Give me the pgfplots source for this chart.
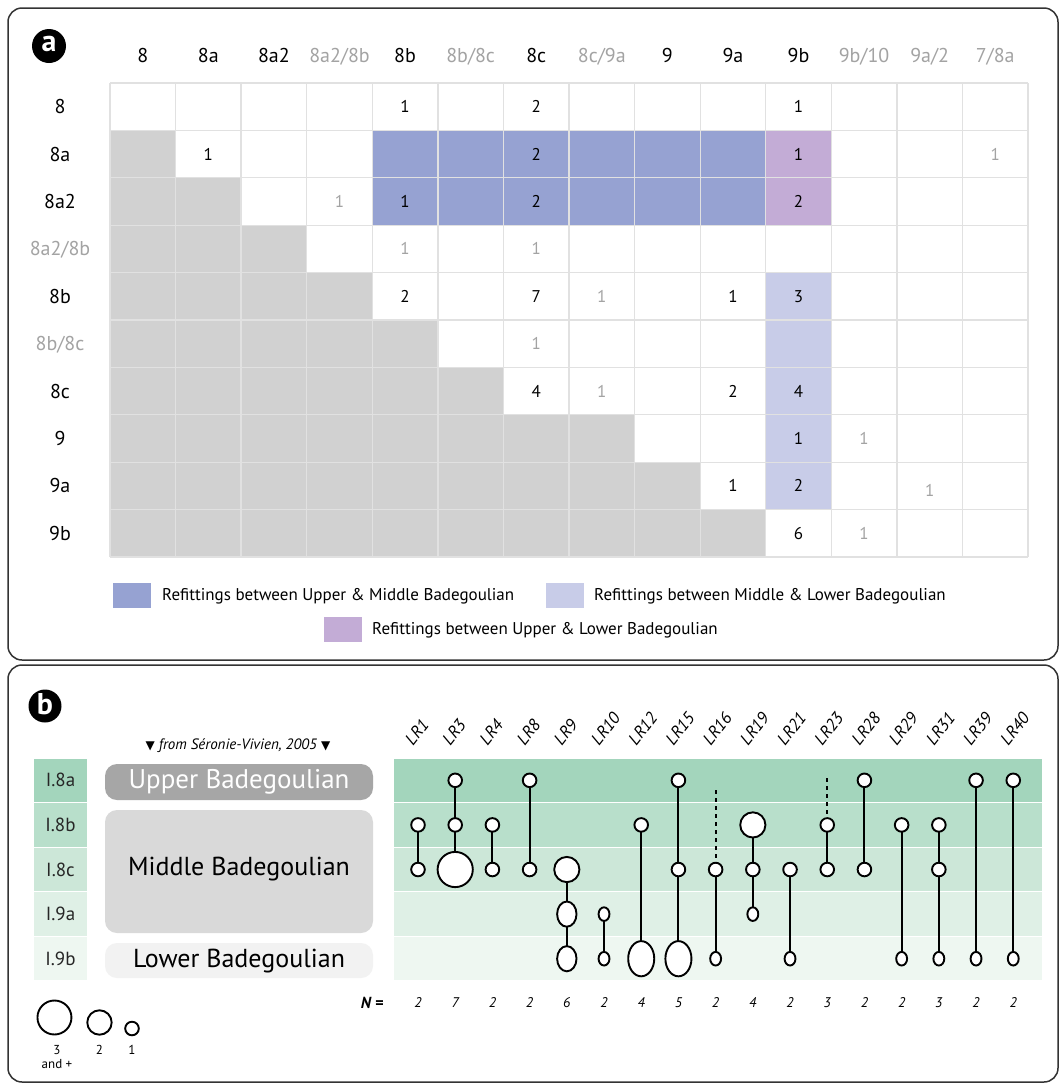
\documentclass[border=0pt]{standalone}
\usepackage{fontspec}
\setmainfont{PT Sans}
\newfontfamily\dejavu{DejaVu Sans}
\usepackage{pgfplots}
\pgfplotsset{compat=1.18}

\definecolor{blueUM}{HTML}{96A2D2}
\definecolor{purpleUL}{HTML}{C3ACD6}
\definecolor{lavML}{HTML}{C8CCE8}
\definecolor{cellgray}{HTML}{D1D1D1}
\definecolor{gridc}{HTML}{E1E1E1}
\definecolor{lightnum}{HTML}{A3A3A3}
\definecolor{bandA}{HTML}{A3D5BC}
\definecolor{bandB}{HTML}{B8DFCB}
\definecolor{bandC}{HTML}{CCE7D8}
\definecolor{bandD}{HTML}{DFF0E6}
\definecolor{bandE}{HTML}{EEF7F1}
\definecolor{framec}{HTML}{333333}

\newcommand\fs[1]{\fontsize{#1bp}{#1bp}\selectfont}

\begin{document}
\begin{tikzpicture}[x=1bp,y=-1bp]
\useasboundingbox (0,0) rectangle (1061,1083);
\fill[white] (0,0) rectangle (1061,1083);

% frames and panel letters
\draw[framec, line width=1.5bp, rounded corners=14bp] (8,8) rectangle (1058,660);
\draw[framec, line width=1.5bp, rounded corners=14bp] (8,665) rectangle (1058,1082);
\fill[black] (49,46) circle (17bp);
\node[text=white, font=\fs{30}\bfseries] at (49,44) {a};
\fill[black] (45,706) circle (16.5bp);
\node[text=white, font=\fs{30}\bfseries] at (45,704) {b};

% ---------- panel a: refitting matrix ----------
\begin{axis}[
  at={(110bp,-83bp)}, anchor=north west,
  scale only axis, width=918bp, height=474bp,
  xmin=0, xmax=14, ymin=0, ymax=10, y dir=reverse,
  axis on top, axis line style={draw=none},
  major tick length=0pt, minor tick length=0pt,
  xtick={0.5,1.5,...,13.5}, ytick={0.5,1.5,...,9.5},
  minor xtick={0,1,...,14}, minor ytick={0,1,...,10},
  xminorgrids=true, yminorgrids=true,
  minor grid style={draw=gridc, line width=1.3bp},
  xticklabel pos=upper,
  xticklabels={8,8a,8a2,\textcolor{lightnum}{8a2/8b},8b,\textcolor{lightnum}{8b/8c},8c,
    \textcolor{lightnum}{8c/9a},9,9a,9b,\textcolor{lightnum}{9b/10},\textcolor{lightnum}{9a/2},
    \textcolor{lightnum}{7/8a}},
  yticklabels={8,8a,8a2,\textcolor{lightnum}{8a2/8b},8b,\textcolor{lightnum}{8b/8c},8c,9,9a,9b},
  xticklabel style={font=\fs{20}, anchor=base, yshift=21bp},
  yticklabel style={font=\fs{20}, anchor=base, xshift=-50bp, yshift=-7bp},
]
% lower triangle (not used)
\addplot[fill=cellgray, draw=none] coordinates {
  (0,1) (1,1) (1,2) (2,2) (2,3) (3,3) (3,4) (4,4) (4,5) (5,5) (5,6) (6,6)
  (6,7) (8,7) (8,8) (9,8) (9,9) (10,9) (10,10) (0,10)} -- cycle;
% Upper & Middle
\addplot[fill=blueUM, draw=none] coordinates {(4,1) (10,1) (10,3) (4,3)} -- cycle;
% Upper & Lower
\addplot[fill=purpleUL, draw=none] coordinates {(10,1) (11,1) (11,3) (10,3)} -- cycle;
% Middle & Lower
\addplot[fill=lavML, draw=none] coordinates {(10,4) (11,4) (11,9) (10,9)} -- cycle;
% counts in levels
\addplot[only marks, mark=*, mark size=0pt, mark options={draw=none, fill=none},
  nodes near coords, point meta=explicit symbolic,
  nodes near coords style={anchor=center, font=\fs{17}, text=black}] coordinates {
  (4.5,0.5)[1] (6.5,0.5)[2] (10.5,0.5)[1]
  (1.5,1.5)[1] (6.5,1.5)[2] (10.5,1.5)[1]
  (4.5,2.5)[1] (6.5,2.5)[2] (10.5,2.5)[2]
  (4.5,4.5)[2] (6.5,4.5)[7] (9.5,4.5)[1] (10.5,4.5)[3]
  (6.5,6.5)[4] (9.5,6.5)[2] (10.5,6.5)[4]
  (10.5,7.5)[1]
  (9.5,8.5)[1] (10.5,8.5)[2]
  (10.5,9.5)[6]};
% counts in transitional units
\addplot[only marks, mark=*, mark size=0pt, mark options={draw=none, fill=none},
  nodes near coords, point meta=explicit symbolic,
  nodes near coords style={anchor=center, font=\fs{17}, text=lightnum}] coordinates {
  (13.5,1.5)[1] (3.5,2.5)[1] (4.5,3.5)[1] (6.5,3.5)[1] (7.5,4.5)[1]
  (6.5,5.5)[1] (7.5,6.5)[1] (11.5,7.5)[1] (12.5,8.6)[1] (11.5,9.5)[1]};
\end{axis}

% legend of panel a
\fill[blueUM] (113,583) rectangle (151,608);
\node[anchor=west, font=\fs{17}, inner sep=0pt] at (162,596) {Refittings between Upper \& Middle Badegoulian};
\fill[lavML] (546,583) rectangle (584,608);
\node[anchor=west, font=\fs{17}, inner sep=0pt] at (594,596) {Refittings between Middle \& Lower Badegoulian};
\fill[purpleUL] (324,617) rectangle (362,642);
\node[anchor=west, font=\fs{17}, inner sep=0pt] at (372,630) {Refittings between Upper \& Lower Badegoulian};

% ---------- panel b: left annotations ----------
\node[font=\fs{15}] at (238,746) {{\dejavu\fs{12}▼} \textit{from Séronie-Vivien, 2005} {\dejavu\fs{12}▼}};
\fill[gray!70!white, rounded corners=12bp] (105,764) rectangle (373,800);
\node[text=white, font=\fs{27}] at (239,782) {Upper Badegoulian};
\fill[black!15, rounded corners=12bp] (105,810) rectangle (373,933);
\node[font=\fs{26}] at (239,869) {Middle Badegoulian};
\fill[black!5, rounded corners=12bp] (105,943) rectangle (373,978);
\node[font=\fs{26}] at (239,961) {Lower Badegoulian};

% ---------- panel b: refitting sets ----------
\begin{axis}[
  at={(393bp,-758bp)}, anchor=north west,
  scale only axis, width=650bp, height=223bp,
  xmin=-0.672, xmax=16.8, ymin=-0.5, ymax=4.5, y dir=reverse,
  clip=false, axis line style={draw=none},
  major tick length=0pt, ytick=\empty,
  xtick={0,1,...,16}, xticklabel pos=upper,
  xticklabels={LR1,LR3,LR4,LR8,LR9,LR10,LR12,LR15,LR16,LR19,LR21,LR23,LR28,LR29,LR31,LR39,LR40},
  xticklabel style={xshift=-7bp, yshift=9bp, rotate=52, anchor=base west, font=\fs{17}\itshape},
  unbounded coords=jump,
]
% level bands (right) and level column (left)
\addplot[fill=bandA, draw=white, line width=1.2bp] coordinates {(-0.672,-0.5) (16.8,-0.5) (16.8,0.5) (-0.672,0.5)} -- cycle;
\addplot[fill=bandB, draw=white, line width=1.2bp] coordinates {(-0.672,0.5) (16.8,0.5) (16.8,1.5) (-0.672,1.5)} -- cycle;
\addplot[fill=bandC, draw=white, line width=1.2bp] coordinates {(-0.672,1.5) (16.8,1.5) (16.8,2.5) (-0.672,2.5)} -- cycle;
\addplot[fill=bandD, draw=white, line width=1.2bp] coordinates {(-0.672,2.5) (16.8,2.5) (16.8,3.5) (-0.672,3.5)} -- cycle;
\addplot[fill=bandE, draw=white, line width=1.2bp] coordinates {(-0.672,3.5) (16.8,3.5) (16.8,4.5) (-0.672,4.5)} -- cycle;
\addplot[fill=bandA, draw=white, line width=1.2bp] coordinates {(-10.35,-0.5) (-8.871,-0.5) (-8.871,0.5) (-10.35,0.5)} -- cycle;
\addplot[fill=bandB, draw=white, line width=1.2bp] coordinates {(-10.35,0.5) (-8.871,0.5) (-8.871,1.5) (-10.35,1.5)} -- cycle;
\addplot[fill=bandC, draw=white, line width=1.2bp] coordinates {(-10.35,1.5) (-8.871,1.5) (-8.871,2.5) (-10.35,2.5)} -- cycle;
\addplot[fill=bandD, draw=white, line width=1.2bp] coordinates {(-10.35,2.5) (-8.871,2.5) (-8.871,3.5) (-10.35,3.5)} -- cycle;
\addplot[fill=bandE, draw=white, line width=1.2bp] coordinates {(-10.35,3.5) (-8.871,3.5) (-8.871,4.5) (-10.35,4.5)} -- cycle;
% refitting links
\addplot[black, line width=2bp] coordinates {
  (0,1) (0,2) (0,nan) (1,0) (1,2) (1,nan) (2,1) (2,2) (2,nan) (3,0) (3,2) (3,nan)
  (4,2) (4,4) (4,nan) (5,3) (5,4) (5,nan) (6,1) (6,4) (6,nan) (7,0) (7,4) (7,nan)
  (8,2) (8,4) (8,nan) (9,1) (9,3) (9,nan) (10,2) (10,4) (10,nan) (11,1) (11,2) (11,nan)
  (12,0) (12,2) (12,nan) (13,1) (13,4) (13,nan) (14,1) (14,4) (14,nan)
  (15,0) (15,4) (15,nan) (16,0) (16,4)};
% uncertain links
\addplot[black, line width=2bp, dash pattern=on 4bp off 4bp] coordinates {(8,0.22) (8,1.74) (8,nan) (11,-0.05) (11,0.78)};
% pieces: 1
\addplot[only marks, mark=*, mark size=6.8bp, mark options={fill=white, draw=black, line width=1.9bp}] coordinates {
  (0,1) (0,2) (1,0) (1,1) (2,1) (2,2) (3,0) (3,2) (6,1) (7,0) (7,2) (8,2) (9,2)
  (10,2) (11,1) (11,2) (12,0) (12,2) (13,1) (14,1) (14,2) (15,0) (16,0)};
\addplot[only marks, mark=*, mark size=6.8bp, mark options={xscale=0.8, fill=white, draw=black, line width=1.9bp}] coordinates {
  (5,3) (5,4) (8,4) (9,3) (10,4) (13,4) (14,4) (15,4) (16,4)};
% pieces: 2
\addplot[only marks, mark=*, mark size=12.6bp, mark options={fill=white, draw=black, line width=1.9bp}] coordinates {(4,2) (9,1)};
\addplot[only marks, mark=*, mark size=12.6bp, mark options={xscale=0.77, fill=white, draw=black, line width=1.9bp}] coordinates {(4,3) (4,4)};
% pieces: 3 and more
\addplot[only marks, mark=*, mark size=17.6bp, mark options={fill=white, draw=black, line width=1.9bp}] coordinates {(1,2)};
\addplot[only marks, mark=*, mark size=17.6bp, mark options={xscale=0.74, fill=white, draw=black, line width=1.9bp}] coordinates {(6,4) (7,4)};
% N per set
\addplot[only marks, mark=*, mark size=0pt, mark options={draw=none, fill=none},
  nodes near coords, point meta=explicit symbolic,
  nodes near coords style={anchor=center, font=\fs{14}\itshape}] coordinates {
  (0,4.99)[2] (1,4.99)[7] (2,4.99)[2] (3,4.99)[2] (4,4.99)[6] (5,4.99)[2] (6,4.99)[4]
  (7,4.99)[5] (8,4.99)[2] (9,4.99)[4] (10,4.99)[2] (11,4.99)[3] (12,4.99)[2]
  (13,4.99)[2] (14,4.99)[3] (15,4.99)[2] (16,4.99)[2]};
% size key
\addplot[only marks, mark=*, mark size=17bp, mark options={fill=white, draw=black, line width=1.9bp}] coordinates {(-9.772,5.318)};
\addplot[only marks, mark=*, mark size=12.2bp, mark options={fill=white, draw=black, line width=1.9bp}] coordinates {(-8.562,5.430)};
\addplot[only marks, mark=*, mark size=6.8bp, mark options={fill=white, draw=black, line width=1.9bp}] coordinates {(-7.688,5.565)};
\end{axis}

% level names and key labels
\foreach \t/\y in {I.8a/780.3, I.8b/824.9, I.8c/869.5, I.9a/914.1, I.9b/958.7}
  \node[font=\fs{19}, text=black!85] at (60.5,\y) {\t};
\node[font=\fs{16}\bfseries\itshape] at (372,1003) {N =};
\node[font=\fs{13}] at (57,1050) {3};
\node[font=\fs{13}] at (57,1064) {and +};
\node[font=\fs{13}] at (99.5,1050) {2};
\node[font=\fs{13}] at (132,1050) {1};
\end{tikzpicture}
\end{document}
